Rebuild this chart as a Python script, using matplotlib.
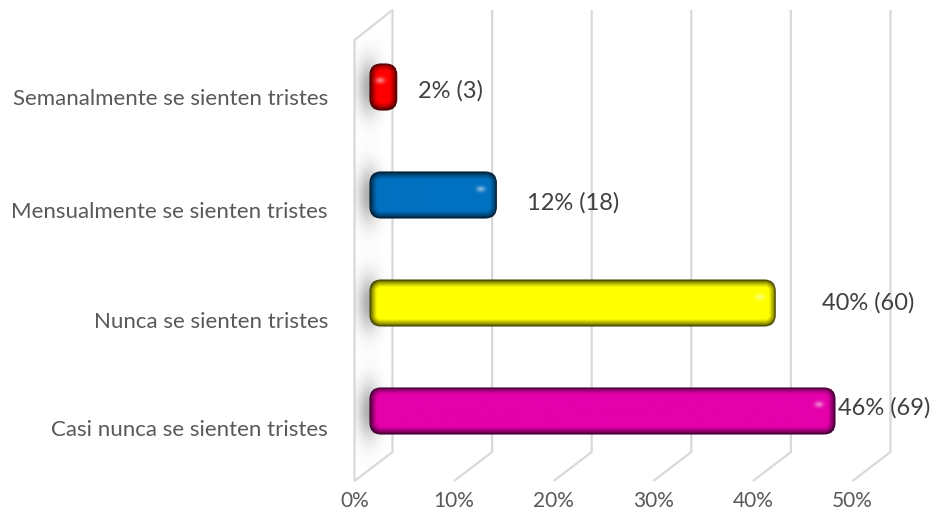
import numpy as np
import matplotlib.pyplot as plt
from matplotlib.patches import FancyBboxPatch, Polygon
from matplotlib.colors import to_rgb

categorias = ["Casi nunca se sienten tristes", "Nunca se sienten tristes",
              "Mensualmente se sienten tristes", "Semanalmente se sienten tristes"]
porcentajes = [46, 40, 12, 2]
frecuencias = [69, 60, 18, 3]
colores = ["#E400AA", "#FFFF00", "#0070C0", "#FF0000"]
ticks = [0, 10, 20, 30, 40, 50]

plt.rcParams['font.family'] = ['Lato', 'DejaVu Sans']

W, H = 937, 523
X0, SX = 373.0, 9.96    # pixel del 0% y pixeles por punto porcentual
Y0, SY = 112.0, 108.0   # pixel (desde abajo) de la primera barra y separacion

fig = plt.figure(figsize=(W / 100, H / 100), dpi=100)
ax = fig.add_axes([0, 0, 1, 1])
ax.set_xlim(-X0 / SX, (W - X0) / SX)
ax.set_ylim(-Y0 / SY, (H - Y0) / SY)
ax.axis('off')


def dx(px):
    return px / SX


def ypx(fila):
    # fila de pixel contada desde arriba -> coordenada y
    return (H - fila - Y0) / SY


atras, frente = dx(19.5), dx(-18.5)
techo, piso_atras, piso_frente = ypx(10), ypx(452), ypx(481)
gris = '#d9d9d9'

# pared izquierda
pared = Polygon([(frente, piso_frente), (frente, ypx(40)), (atras, techo), (atras, piso_atras)],
                closed=True, fc='white', ec=gris, lw=1.6, zorder=1)
ax.add_patch(pared)

# sombras difusas sobre la pared
for i in range(len(porcentajes)):
    gx = np.linspace(-20, 20, 40)
    gy = np.linspace(-60, 60, 120)
    GX, GY = np.meshgrid(gx, gy)
    a = np.exp(-(GX + 4) ** 2 / (2 * 8 ** 2) - GY ** 2 / (2 * 19 ** 2)) * 0.75
    img = np.zeros((120, 40, 4))
    img[..., :3] = 0.58
    img[..., 3] = a
    sh = ax.imshow(img, extent=(dx(-20), dx(20), i - 60 / SY, i + 60 / SY),
                   aspect='auto', zorder=1.5, interpolation='bilinear')
    sh.set_clip_path(pared)

# rejilla en perspectiva
for t in ticks[1:]:
    ax.plot([t + atras, t + atras, t + frente], [techo, piso_atras, piso_frente],
            color=gris, lw=1.6, zorder=1, solid_capstyle='butt')

# barras con relieve
alto_px = 46
for i, (v, c) in enumerate(zip(porcentajes, colores)):
    izq = dx(-3)
    der = v + dx(3.8)
    h = alto_px / SY
    abajo = i - h / 2
    caja = FancyBboxPatch((izq, abajo), der - izq, h,
                          boxstyle=f"round,pad=0,rounding_size={dx(11)}",
                          mutation_aspect=SX / SY, fc='none',
                          ec=tuple(np.array(to_rgb(c)) * 0.3), lw=0.8, zorder=3)
    ax.add_patch(caja)

    nx = max(int((der - izq) * SX), 10)
    ny = alto_px
    px = np.arange(nx) + 0.5 - nx / 2
    py = np.arange(ny) + 0.5 - ny / 2
    PX, PY = np.meshgrid(px, py)
    r = 11.0
    qx = np.abs(PX) - (nx / 2 - r)
    qy = np.abs(PY) - (ny / 2 - r)
    d = np.hypot(np.maximum(qx, 0), np.maximum(qy, 0)) + np.minimum(np.maximum(qx, qy), 0) - r
    prof = np.clip(-d / 7.0, 0, 1) ** 0.7
    base = np.array(to_rgb(c))
    rgb = base[None, None, :] * (0.22 + 0.78 * prof[..., None])
    # brillo cerca del extremo derecho
    hx, hy = nx / 2 - 16, -ny / 2 + 17
    brillo = np.exp(-((PX - hx) ** 2 / (2 * 3.0 ** 2) + (PY - hy) ** 2 / (2 * 2.0 ** 2))) * 0.5
    rgb = rgb * (1 - brillo[..., None]) + brillo[..., None]
    im = ax.imshow(rgb, extent=(izq, der, abajo, abajo + h), origin='upper',
                   aspect='auto', zorder=2.5, interpolation='bilinear')
    im.set_clip_path(caja)

# etiquetas de categoria
baja_cat = [19, 19, 17, 12]
for i, cat in enumerate(categorias):
    ax.text(dx(328 - X0), i - baja_cat[i] / SY, cat, ha='right', va='center',
            fontsize=16, color='#595959', zorder=4)

# etiquetas de valor
desp_x = [0.7, 5.1, 3.5, 2.5]
baja_val = [-3, 0, 8, 4]
for i, (v, n) in enumerate(zip(porcentajes, frecuencias)):
    ax.text(v + desp_x[i], i - baja_val[i] / SY, f"{v}% ({n})", ha='left', va='center',
            fontsize=17, color='#404040', zorder=4)

# marcas del eje
for t in ticks:
    ax.text(t + frente, ypx(501), f"{t}%", ha='center', va='center',
            fontsize=15, color='#595959', zorder=4)

fig.savefig("out.png", dpi=100)
